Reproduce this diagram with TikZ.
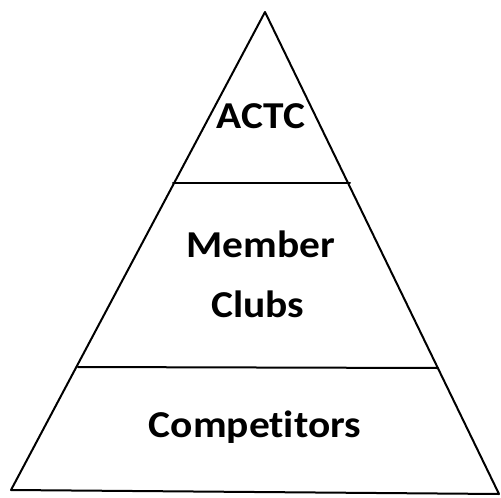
\documentclass[tikz,border=0pt]{standalone}
\usepackage{graphicx}
\usepackage{fontspec}
\setmainfont[Ligatures=NoCommon]{Carlito}
\newcommand{\wideTxt}[1]{\scalebox{1.09}[1]{#1}}
\begin{document}
\begin{tikzpicture}[x=1pt,y=-1pt,
  edge/.style={line width=2pt,line join=round,line cap=round},
  lbl/.style={font=\fontsize{38}{42}\selectfont\bfseries,inner sep=0pt,anchor=base}]
\useasboundingbox (0,0) rectangle (501,498);
\coordinate (apex) at (265,12);
\coordinate (bl) at (11,490);
\coordinate (br) at (499,494);
\coordinate (l1) at (173,183);
\coordinate (r1) at (350,183);
\coordinate (l2) at (78,367);
\coordinate (r2) at (438,368);
\draw[edge] (bl) -- (apex) -- (br) -- cycle;
\draw[edge] (l1) -- (r1);
\draw[edge] (l2) -- (r2);
\node[lbl] (actc) at (261,128) {\wideTxt{ACTC}};
\node[lbl] (member) at (261,257) {\wideTxt{Member}};
\node[lbl] (clubs) at (258,317) {\wideTxt{Clubs}};
\node[lbl] (comp) at (255,437) {\wideTxt{Competitors}};
\end{tikzpicture}
\end{document}
